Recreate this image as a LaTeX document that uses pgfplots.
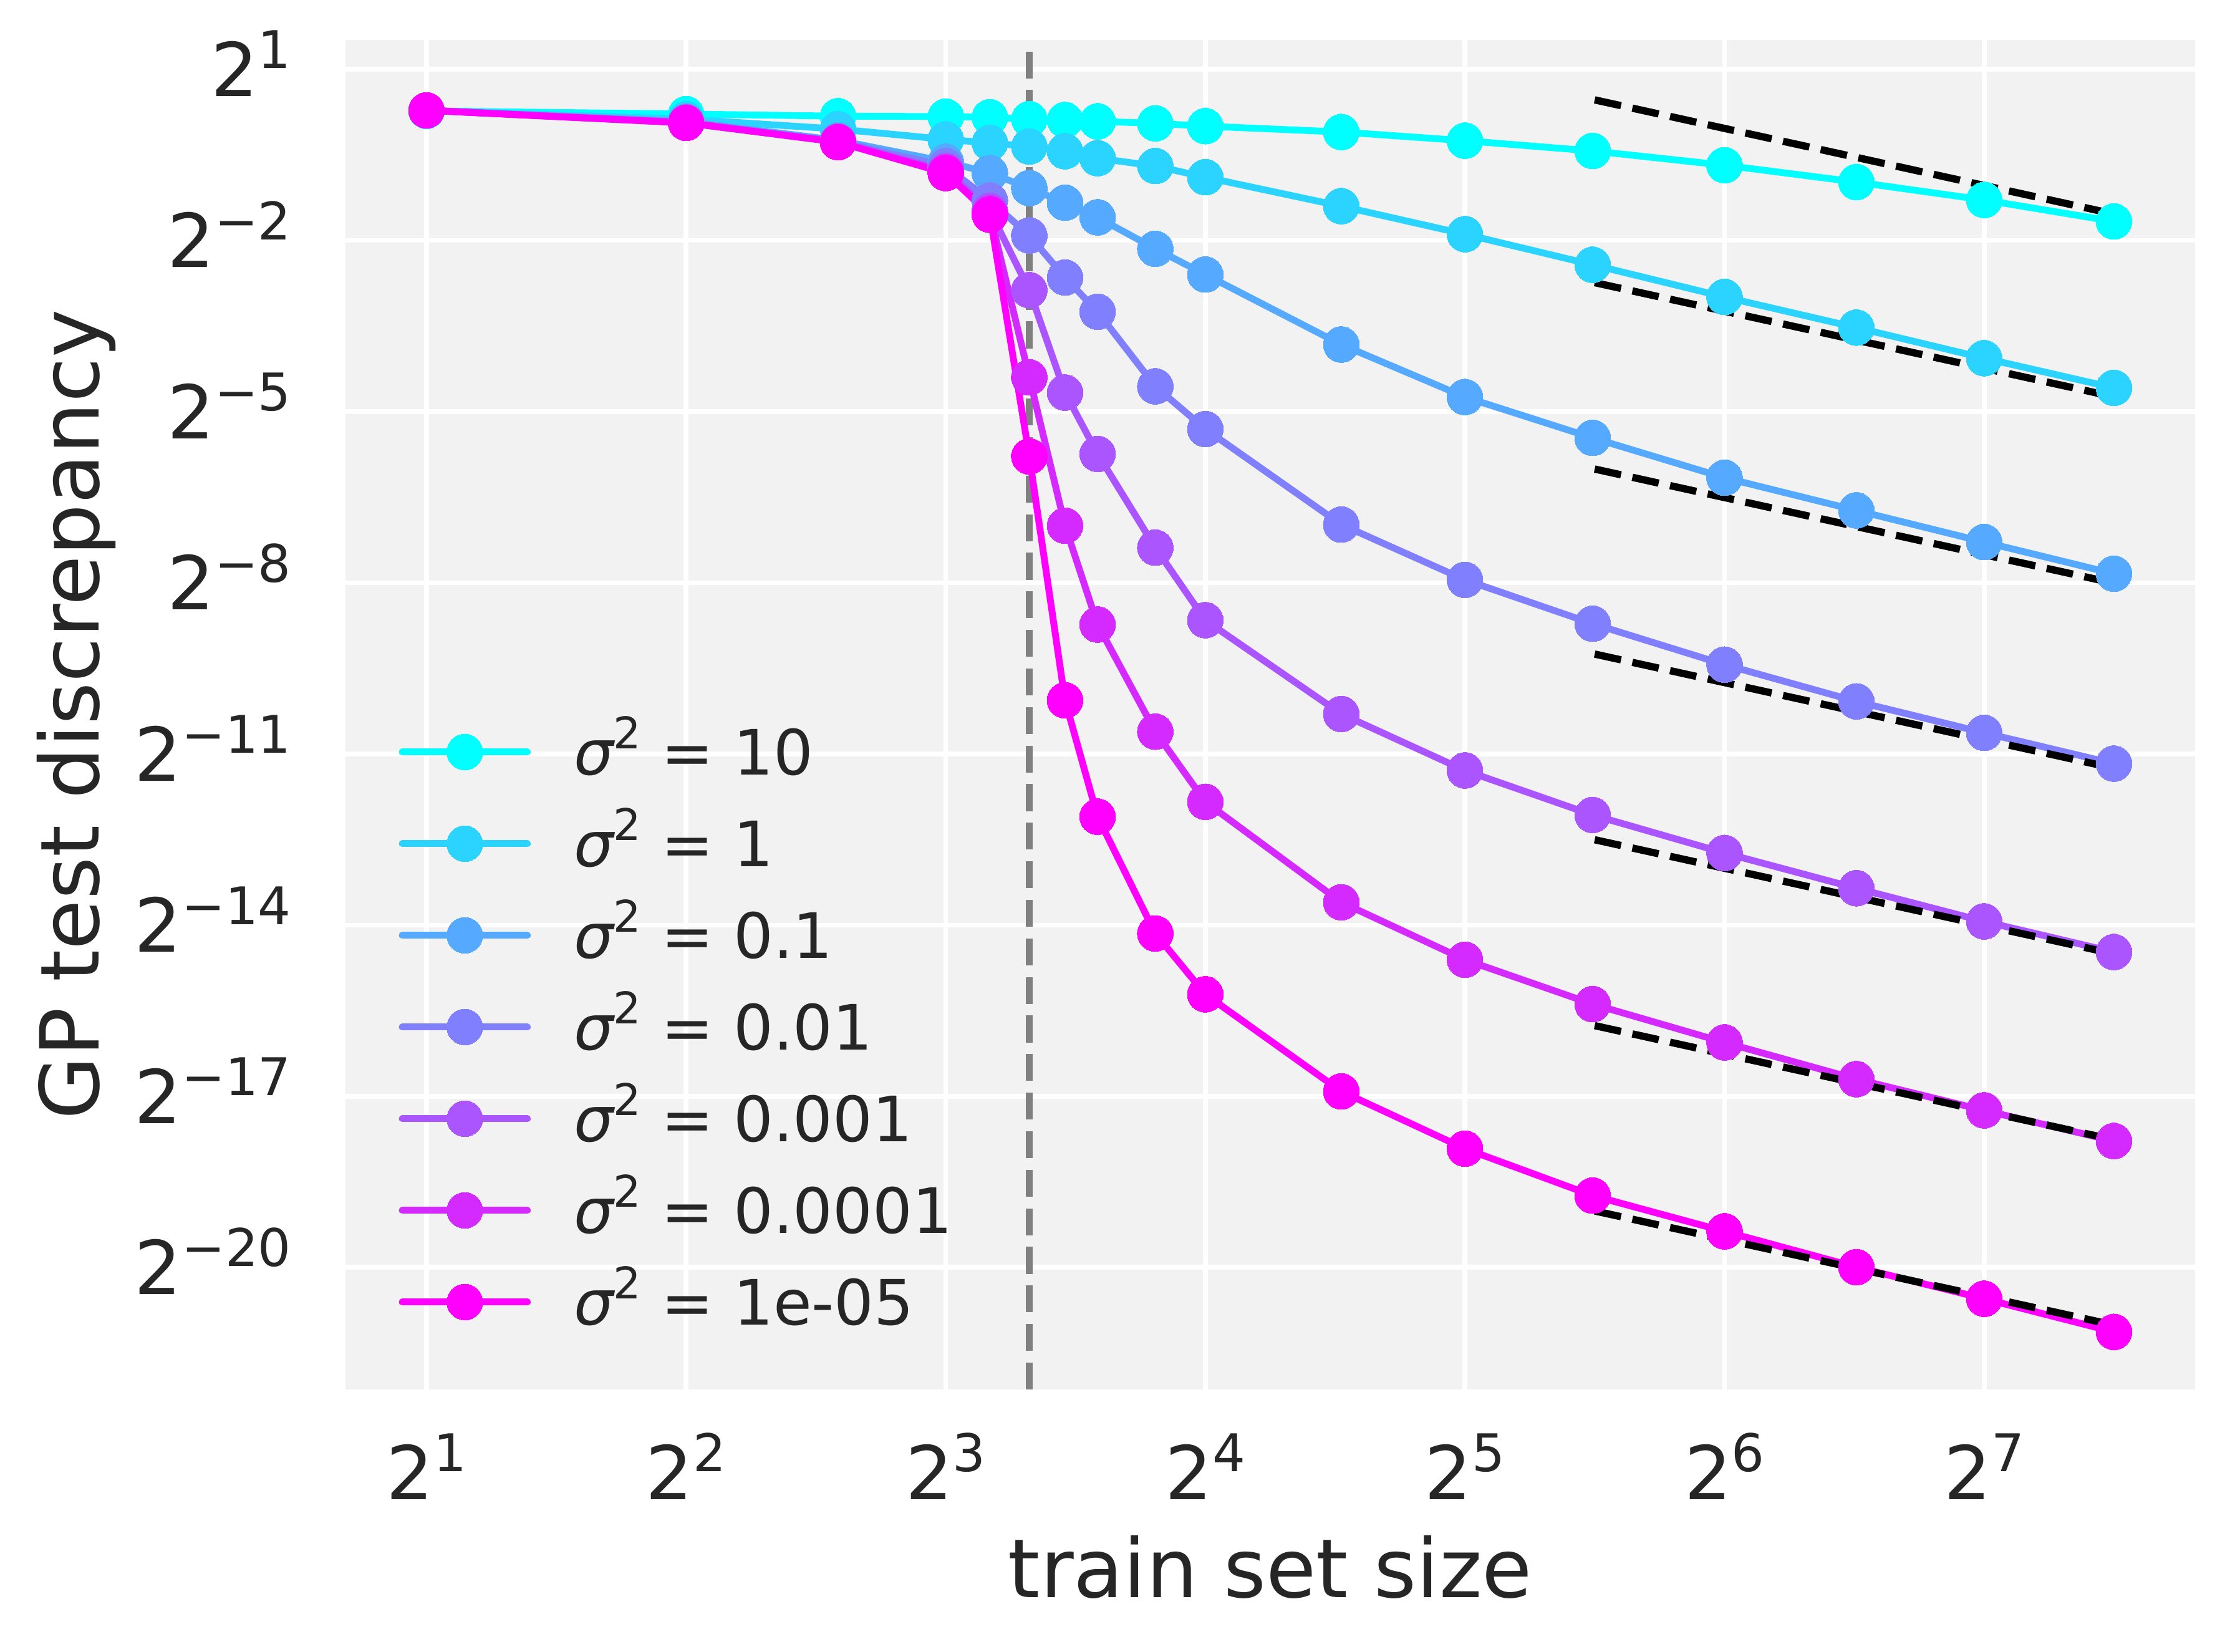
\documentclass[border=0pt]{standalone}
\usepackage{fontspec}
\setmainfont{DejaVu Sans}
\usepackage{pgfplots}
\pgfplotsset{compat=1.18}
\definecolor{bg}{HTML}{F2F2F2}
\definecolor{txt}{HTML}{262626}
\definecolor{c0}{HTML}{00FFFF}
\definecolor{c1}{HTML}{2AD4FF}
\definecolor{c2}{HTML}{55AAFF}
\definecolor{c3}{HTML}{8080FF}
\definecolor{c4}{HTML}{AA55FF}
\definecolor{c5}{HTML}{D42AFF}
\definecolor{c6}{HTML}{FF00FF}
\newcommand{\pw}[1]{2\raisebox{0.376em}{\fontsize{10.7pt}{10.7pt}\selectfont #1}}
\newcommand{\sig}{{\itshape σ}\raisebox{0.42em}{\fontsize{9.0pt}{9.0pt}\selectfont 2}}
\pgfplotsset{
  ser/.style={color=#1, line width=1.4pt, line cap=round, line join=round, mark=*, mark size=3.7pt, mark options={solid, line width=0pt, fill=#1, draw=#1}},
  refl/.style={black, line width=1.5pt, dash pattern=on 5.55pt off 2.4pt, line cap=butt, forget plot},
}
\begin{document}
\begin{tikzpicture}
\begin{axis}[name=ax, at={(0,0)}, anchor=south west, scale only axis,
  width=381.34pt, height=278.23pt,
  xmode=log, log basis x=2, xmin=1.6108, xmax=224.8, ymin=-22.139, ymax=1.514,
  enlargelimits=false,
  axis background/.style={fill=bg}, axis line style={draw=none}, major tick length=0pt,
  grid=major, grid style={white, line width=1pt},
  xtick={2,4,8,16,32,64,128},
  xticklabels={\pw{1},\pw{2},\pw{3},\pw{4},\pw{5},\pw{6},\pw{7}},
  ytick={1,-2,-5,-8,-11,-14,-17,-20},
  yticklabels={\pw{1},\pw{−2},\pw{−5},\pw{−8},\pw{−11},\pw{−14},\pw{−17},\pw{−20}},
  ticklabel style={font=\fontsize{15.3pt}{18pt}\selectfont, text=txt, inner sep=0pt},
  xticklabel style={anchor=base, yshift=-22.63pt},
  yticklabel style={anchor=base east, xshift=-11pt, yshift=-5.58pt},
  xlabel={train set size}, ylabel={GP test discrepancy},
  label style={font=\fontsize{16.8pt}{20pt}\selectfont, text=txt},
  xlabel style={at={(axis description cs:0.5,-0.1543)}, anchor=base},
  ylabel style={at={(axis description cs:-0.1335,0.5)}, anchor=base},
  legend style={at={(axis description cs:0,1)}, anchor=north west, xshift=11pt, yshift=-137.35pt,
    draw=none, fill=none, inner sep=0pt, outer sep=0pt, column sep=8.9pt, row sep=0pt,
    font=\fontsize{12.9pt}{15pt}\selectfont, text=txt, cells={anchor=west},
    nodes={inner sep=0pt, text height=14.15pt, text depth=4.75pt}},
  legend image code/.code={\draw[mark repeat=2, mark phase=2, #1] plot coordinates {(0pt,0pt) (12.9pt,0pt) (25.8pt,0pt)};},
]
\addplot[gray, line width=1.5pt, dash pattern=on 5.55pt off 2.4pt, forget plot] coordinates {(10,-22.139) (10,1.514)};

\addplot[ser=c0] coordinates {(2,0.27) (4,0.215) (6,0.178) (8,0.17) (9,0.16) (10,0.125) (11,0.11) (12,0.087) (14,0.052) (16,0.003) (23,-0.1) (32,-0.252) (45,-0.432) (64,-0.682) (91,-0.977) (128,-1.291) (181,-1.667)};
\addlegendentry{\sig{} = 10}
\addplot[refl] coordinates {(45.25,0.463) (181,-1.537)};

\addplot[ser=c1] coordinates {(2,0.275) (4,0.125) (6,-0.048) (8,-0.23) (9,-0.29) (10,-0.354) (11,-0.437) (12,-0.559) (14,-0.696) (16,-0.892) (23,-1.4) (32,-1.891) (45,-2.427) (64,-2.991) (91,-3.528) (128,-4.064) (181,-4.584)};
\addlegendentry{\sig{} = 1}
\addplot[refl] coordinates {(45.25,-2.74) (181,-4.74)};

\addplot[ser=c2] coordinates {(2,0.28) (4,0.085) (6,-0.245) (8,-0.62) (9,-0.819) (10,-1.083) (11,-1.34) (12,-1.596) (14,-2.147) (16,-2.598) (23,-3.825) (32,-4.745) (45,-5.461) (64,-6.159) (91,-6.732) (128,-7.286) (181,-7.842)};
\addlegendentry{\sig{} = 0.1}
\addplot[refl] coordinates {(45.25,-6.007) (181,-8.007)};

\addplot[ser=c3] coordinates {(2,0.28) (4,0.07) (6,-0.265) (8,-0.7) (9,-1.3) (10,-1.914) (11,-2.65) (12,-3.25) (14,-4.558) (16,-5.306) (23,-6.98) (32,-7.949) (45,-8.718) (64,-9.435) (91,-10.08) (128,-10.63) (181,-11.17)};
\addlegendentry{\sig{} = 0.01}
\addplot[refl] coordinates {(45.25,-9.25) (181,-11.25)};

\addplot[ser=c4] coordinates {(2,0.28) (4,0.065) (6,-0.27) (8,-0.78) (9,-1.48) (10,-2.872) (11,-4.667) (12,-5.742) (14,-7.385) (16,-8.656) (23,-10.30) (32,-11.29) (45,-12.07) (64,-12.736) (91,-13.354) (128,-13.936) (181,-14.472)};
\addlegendentry{\sig{} = 0.001}
\addplot[refl] coordinates {(45.25,-12.504) (181,-14.504)};

\addplot[ser=c5] coordinates {(2,0.28) (4,0.062) (6,-0.275) (8,-0.81) (9,-1.53) (10,-4.40) (11,-7.00) (12,-8.733) (14,-10.61) (16,-11.84) (23,-13.6) (32,-14.607) (45,-15.385) (64,-16.057) (91,-16.70) (128,-17.247) (181,-17.784)};
\addlegendentry{\sig{} = 0.0001}
\addplot[refl] coordinates {(45.25,-15.762) (181,-17.762)};

\addplot[ser=c6] coordinates {(2,0.28) (4,0.06) (6,-0.278) (8,-0.82) (9,-1.55) (10,-5.785) (11,-10.06) (12,-12.10) (14,-14.147) (16,-15.213) (23,-16.914) (32,-17.918) (45,-18.741) (64,-19.368) (91,-19.995) (128,-20.549) (181,-21.13)};
\addlegendentry{\sig{} = 1e-05}
\addplot[refl] coordinates {(45.25,-19.01) (181,-21.01)};
\end{axis}
\pgfresetboundingbox
\path[use as bounding box] (ax.south west) ++(-71.23pt,-54.0pt) rectangle ++(460.8pt,340.46pt);
\end{tikzpicture}
\end{document}
